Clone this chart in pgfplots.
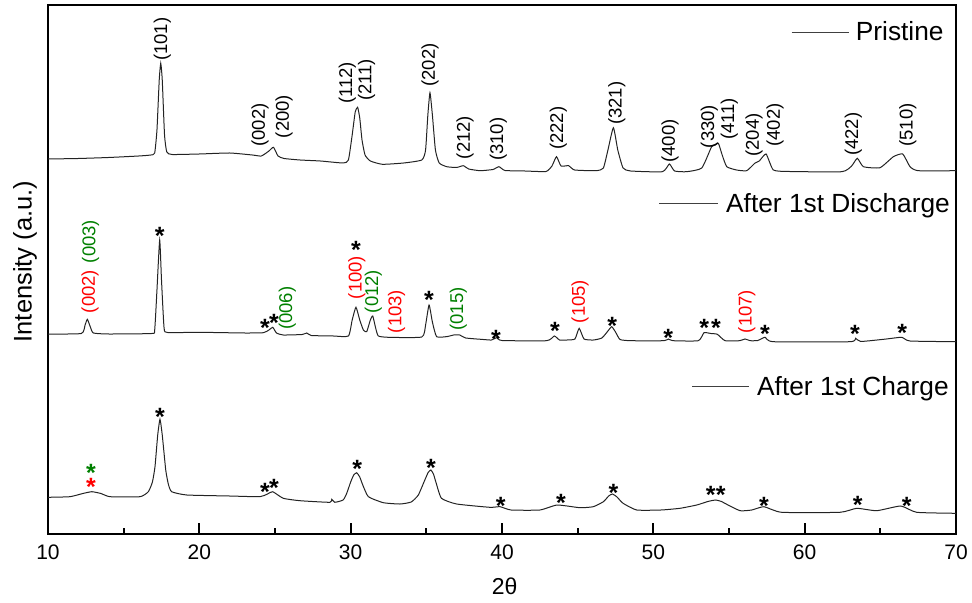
\documentclass[border=0pt]{standalone}
\usepackage{fontspec}
\setmainfont{Liberation Sans}
\usepackage{pgfplots}
\pgfplotsset{compat=1.18}
\definecolor{hklred}{RGB}{255,0,0}
\definecolor{hklgreen}{RGB}{0,128,0}
\definecolor{trace}{RGB}{35,35,35}
\newcommand{\st}{\raisebox{-0.40em}[0.31em][0pt]{\bfseries *}}
\begin{document}
\begin{tikzpicture}[
  hkl/.style={rotate=90, anchor=west, inner sep=0pt, font=\fontsize{18.5}{20}\selectfont},
  st/.style={anchor=center, inner sep=0pt, font=\fontsize{25}{25}\selectfont},
  leg/.style={anchor=base west, inner sep=0pt, font=\fontsize{26.3}{28}\selectfont}
]
\begin{axis}[
  width=908pt, height=529pt, scale only axis,
  xmin=10, xmax=70, ymin=0, ymax=529,
  xtick={10,20,...,70}, minor xtick={15,25,...,65},
  ytick=\empty,
  xtick pos=left, tick align=inside,
  major tick length=11pt, minor tick length=6pt,
  every tick/.style={black, line width=1.8pt},
  axis line style={line width=1.8pt},
  /pgf/number format/assume math mode=true,
  ticklabel style={font=\fontsize{21}{24}\selectfont},
  xticklabel style={anchor=north, inner sep=0pt, yshift=-11pt},
  xlabel={2θ},
  xlabel style={at={([yshift=-60pt]rel axis cs:0.503,0)}, anchor=base, inner sep=0pt, font=\fontsize{23}{26}\selectfont},
  ylabel={Intensity (a.u.)},
  ylabel style={at={([xshift=-16.3pt]rel axis cs:0,0.515)}, anchor=base, inner sep=0pt, font=\fontsize{25.5}{28}\selectfont},
  clip=false,
]
% Pristine
\addplot[trace, line width=1pt, smooth, tension=0.3] coordinates {
(10.0,375) (12,375.5) (14,376.5) (16,378) (16.8,379) (17.05,381) (17.2,404) (17.35,454)
(17.45,470.7) (17.55,454) (17.7,399) (17.85,382) (18.2,379.5) (20,380) (22,381) (23.5,379)
(24.1,378) (24.6,383) (24.9,386.7) (25.2,378) (25.6,375.5) (26.65,374) (28,373) (29.5,371)
(29.85,374) (30.1,399) (30.3,422) (30.46,426.7) (30.6,416) (30.75,394) (30.95,379) (31.3,373)
(32.1,369.7) (33.5,371) (34.7,374) (34.95,384) (35.1,419) (35.24,441.3) (35.4,419) (35.6,384)
(35.85,371) (36.35,367.3) (37.0,366.5) (37.44,368.3) (37.8,365) (38.55,363.3) (39.4,364.5)
(39.8,367.3) (40.2,363.5) (41.5,363) (42.9,362.5) (43.3,368) (43.6,377.3) (43.9,368)
(44.4,368.3) (44.8,364) (46.25,363.3) (46.7,366) (47.0,384) (47.36,406.3) (47.65,384)
(48.0,366) (48.5,363) (50.6,362.3) (51.06,370) (51.4,363) (52.2,362.3) (53.2,366)
(53.85,387.3) (54.1,389) (54.3,390.7) (54.55,379) (54.85,367.3) (55.5,364) (56.17,363.3)
(56.7,370.7) (57.0,373) (57.45,380) (57.93,364) (59,362.5) (62.45,362.3) (63.1,368)
(63.48,375.7) (63.88,367.3) (64.98,366.3) (65.86,377.3) (66.48,380) (66.96,367.3)
(67.5,363.3) (70,363.3)
};
% After 1st Discharge
\addplot[trace, line width=1pt, smooth, tension=0.3] coordinates {
(10,200) (12.2,200.5) (12.45,209) (12.6,214.7) (12.8,207) (13.0,201) (14,200) (16.85,200.5)
(17.05,204) (17.2,244) (17.38,294) (17.5,254) (17.67,206) (17.9,201.5) (20,201.7) (23,201)
(24.23,201.3) (24.6,204) (24.85,206.7) (25.1,201) (25.55,199) (26.8,199.5) (27.1,201)
(27.4,198.5) (28.85,198) (29.85,198) (30.1,214) (30.35,226.7) (30.6,214) (30.84,204)
(31.06,202.3) (31.3,214) (31.46,218) (31.65,206) (31.83,198) (32.5,196.7) (34.7,197)
(34.95,209) (35.18,229) (35.4,212) (35.68,197.3) (36.4,197.5) (36.8,199) (37.2,199)
(37.6,196) (38.77,194.5) (39.3,194) (39.65,196.3) (40.0,193.5) (42.95,193.3) (43.46,198)
(43.8,194) (44.3,194) (44.82,195) (45.1,205.7) (45.42,195) (46.04,194) (46.6,196) (47.0,203)
(47.25,207.3) (47.5,202) (47.8,194.5) (48.5,193.3) (50.7,193.3) (50.99,195) (51.3,193.3)
(52.97,193.3) (53.35,201.3) (53.8,200.5) (54.23,199.7) (54.74,193.3) (55.7,193.3) (56.06,195)
(56.4,193.3) (56.9,193.5) (57.38,196.7) (57.93,192.3) (63.0,192.3) (63.37,195.7) (63.7,192.5)
(65.4,195) (66.41,196.7) (66.96,193) (70,192.3)
};
% After 1st Charge
\addplot[trace, line width=1pt, smooth, tension=0.3] coordinates {
(10,36.7) (11.45,37.3) (12.3,40.5) (12.9,42.3) (13.5,40.5) (14.1,37.3) (16.08,37.3)
(16.63,42.3) (16.9,52) (17.07,67.3) (17.25,99) (17.4,114.7) (17.55,99) (17.78,64) (17.95,50)
(18.17,42.3) (19.17,39) (22,38) (24.0,37.3) (24.5,40) (24.85,42.3) (25.55,35.7) (26.65,33.3)
(28.63,31.7) (28.75,34.7) (28.95,31.7) (29.5,34) (29.74,40.7) (30.0,52) (30.2,59) (30.4,61.3)
(30.6,57) (30.8,49) (31.17,37.3) (32.16,31.3) (33.26,30) (34.0,32) (34.47,39) (34.9,54)
(35.12,61.5) (35.3,64) (35.47,60) (35.65,51) (36.0,35.7) (37.0,30) (39.2,26.7) (39.87,27.3)
(40.6,24) (42.5,24) (43.65,29) (45.15,26.3) (46.03,27.3) (46.7,32.3) (47.05,38) (47.3,40)
(47.6,37) (48.0,30.7) (48.9,24) (50.5,24) (51.76,25.7) (52.87,29) (53.6,32.5) (54.12,34)
(54.5,32.5) (54.85,29.7) (55.73,23.3) (56.5,24) (57.31,27.3) (58.48,21.7) (62.33,21.7)
(63.44,25.7) (64.76,23.3) (66.35,28) (67.4,21.7) (70,20.7)
};
% legends
\draw[black!75, line width=1pt] (axis cs:59.13,501.7) -- (axis cs:62.94,501.7);
\node[leg] at (axis cs:63.37,493.3) {Pristine};
\draw[black!75, line width=1pt] (axis cs:50.4,330) -- (axis cs:54.25,330);
\node[leg] at (axis cs:54.8,321.3) {After 1st Discharge};
\draw[black!75, line width=1pt] (axis cs:52.58,147.3) -- (axis cs:56.34,147.3);
\node[leg] at (axis cs:56.85,139) {After 1st Charge};
% Pristine hkl
\node[hkl] at (axis cs:17.55,473) {(101)};
\node[hkl] at (axis cs:24.01,387.3) {(002)};
\node[hkl] at (axis cs:25.6,395.7) {(200)};
\node[hkl] at (axis cs:29.78,430) {(112)};
\node[hkl] at (axis cs:31.06,433) {(211)};
\node[hkl] at (axis cs:35.24,447.3) {(202)};
\node[hkl] at (axis cs:37.56,374.7) {(212)};
\node[hkl] at (axis cs:39.76,373) {(310)};
\node[hkl] at (axis cs:43.72,384) {(222)};
\node[hkl] at (axis cs:47.58,409) {(321)};
\node[hkl] at (axis cs:51.1,371.3) {(400)};
\node[hkl] at (axis cs:53.7,385.7) {(330)};
\node[hkl] at (axis cs:55.02,394) {(411)};
\node[hkl] at (axis cs:56.65,377.3) {(204)};
\node[hkl] at (axis cs:58.04,387.3) {(402)};
\node[hkl] at (axis cs:63.21,378) {(422)};
\node[hkl] at (axis cs:66.81,387.3) {(510)};
% Discharge hkl
\node[hkl, hklred] at (axis cs:12.78,220.7) {(002)};
\node[hkl, hklgreen] at (axis cs:12.82,270.7) {(003)};
\node[hkl, hklgreen] at (axis cs:25.81,204) {(006)};
\node[hkl, hklred] at (axis cs:30.4,234.7) {(100)};
\node[hkl, hklgreen] at (axis cs:31.5,220.7) {(012)};
\node[hkl, hklred] at (axis cs:33.04,200.7) {(103)};
\node[hkl, hklgreen] at (axis cs:37.11,203.3) {(015)};
\node[hkl, hklred] at (axis cs:45.16,210.7) {(105)};
\node[hkl, hklred] at (axis cs:56.17,200.7) {(107)};
% Discharge stars
\node[st] at (axis cs:17.38,303.3) {\st};
\node[st] at (axis cs:24.34,211.3) {\st};
\node[st] at (axis cs:24.93,216.7) {\st};
\node[st] at (axis cs:30.35,289) {\st};
\node[st] at (axis cs:35.18,239.7) {\st};
\node[st] at (axis cs:39.6,200) {\st};
\node[st] at (axis cs:43.5,208) {\st};
\node[st] at (axis cs:47.29,213.3) {\st};
\node[st] at (axis cs:50.99,201.3) {\st};
\node[st] at (axis cs:53.37,211.3) {\st};
\node[st] at (axis cs:54.14,211.3) {\st};
\node[st] at (axis cs:57.38,205.7) {\st};
\node[st] at (axis cs:63.33,205.7) {\st};
\node[st] at (axis cs:66.45,206.7) {\st};
% Charge stars
\node[st, hklgreen] at (axis cs:12.84,66.2) {\st};
\node[st, hklred] at (axis cs:12.84,52.5) {\st};
\node[st] at (axis cs:17.40,122.3) {\st};
\node[st] at (axis cs:24.34,47.3) {\st};
\node[st] at (axis cs:24.93,51.3) {\st};
\node[st] at (axis cs:30.44,70.7) {\st};
\node[st] at (axis cs:35.31,71.3) {\st};
\node[st] at (axis cs:39.91,33) {\st};
\node[st] at (axis cs:43.9,36.7) {\st};
\node[st] at (axis cs:47.36,46.3) {\st};
\node[st] at (axis cs:53.79,44) {\st};
\node[st] at (axis cs:54.45,44) {\st};
\node[st] at (axis cs:57.31,33) {\st};
\node[st] at (axis cs:63.51,34) {\st};
\node[st] at (axis cs:66.74,33) {\st};
\end{axis}
\pgfresetboundingbox
\path ([shift={(-48pt,-68pt)}]current axis.south west) rectangle ([shift={(16pt,5pt)}]current axis.north east);
\end{tikzpicture}
\end{document}
